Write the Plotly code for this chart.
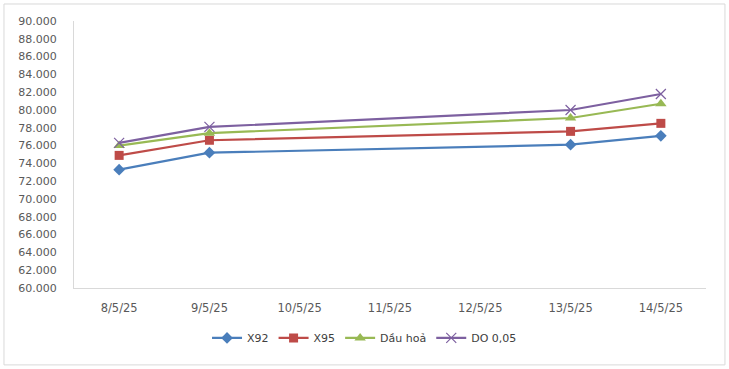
import plotly.graph_objects as go

dates = ["8/5/25", "9/5/25", "10/5/25", "11/5/25", "12/5/25", "13/5/25", "14/5/25"]
x92 = [73300, 75200, None, None, None, 76100, 77100]
x95 = [74900, 76600, None, None, None, 77600, 78500]
dau_hoa = [76000, 77400, None, None, None, 79100, 80700]
do005 = [76300, 78100, None, None, None, 80000, 81800]

series = [
    ("X92", x92, "#4A7EBB", "diamond", 9),
    ("X95", x95, "#BE4B48", "square", 9),
    ("Dầu hoả", dau_hoa, "#98B954", "triangle-up", 10),
    ("DO 0,05", do005, "#7D60A0", "x-thin", 10),
]

fig = go.Figure()
for name, vals, color, sym, size in series:
    marker = dict(symbol=sym, size=size, color=color)
    if sym == "x-thin":
        marker["line"] = dict(color=color, width=1.2)
    fig.add_trace(go.Scatter(
        x=dates, y=vals, name=name, mode="lines+markers",
        connectgaps=True, line=dict(color=color, width=2.2), marker=marker,
    ))

fig.update_layout(
    width=729, height=369,
    margin=dict(l=74, r=23, t=21, b=81),
    paper_bgcolor="white", plot_bgcolor="white",
    separators=",.",
    font=dict(family="DejaVu Sans, Liberation Sans, sans-serif", size=11, color="#595959"),
    showlegend=True,
    legend=dict(orientation="h", x=0.4597, xanchor="center",
                y=-0.187, yanchor="middle",
                font=dict(size=11, color="#404040"), itemwidth=30),
    xaxis=dict(type="category", range=[-0.5, 6.5], showgrid=False, showline=True,
               linecolor="#D9D9D9", linewidth=1, ticks="outside", ticklen=9,
               tickcolor="rgba(0,0,0,0)", zeroline=False, tickangle=0,
               tickfont=dict(size=11.5, color="#595959")),
    yaxis=dict(range=[60000, 90000], dtick=2000, tickformat=",d", showgrid=False,
               showline=True, linecolor="#D9D9D9", linewidth=1, ticks="outside", ticklen=14,
               tickcolor="rgba(0,0,0,0)", zeroline=False,
               tickfont=dict(size=11, color="#595959")),
    shapes=[dict(type="rect", xref="paper", yref="paper",
                 x0=-0.1108, x1=1.030, y0=-0.288, y1=1.0637,
                 line=dict(color="#D9D9D9", width=1), fillcolor="rgba(0,0,0,0)", layer="below")],
)

fig.write_html("out.html", config={"displayModeBar": False},
               post_script="document.body.style.margin='0';")
